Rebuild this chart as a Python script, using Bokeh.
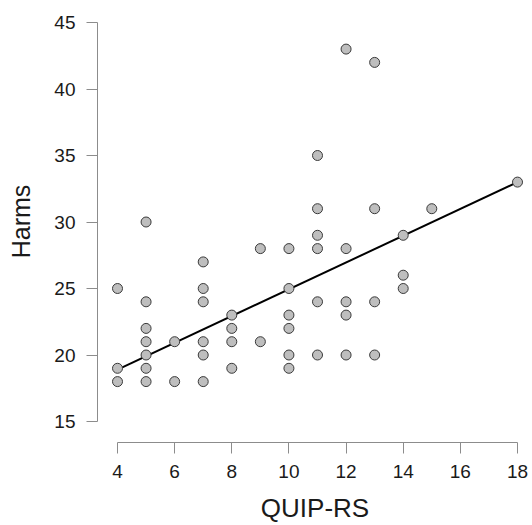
from bokeh.plotting import figure
from bokeh.models import Range1d, FixedTicker
from bokeh.embed import file_html
from bokeh.resources import INLINE

# Data (QUIP-RS vs Harms)
quip_rs = [4, 4, 4,
           5, 5, 5, 5, 5, 5, 5,
           6, 6,
           7, 7, 7, 7, 7, 7,
           8, 8, 8, 8,
           9, 9,
           10, 10, 10, 10, 10, 10,
           11, 11, 11, 11, 11, 11,
           12, 12, 12, 12, 12,
           13, 13, 13, 13,
           14, 14, 14,
           15,
           18]
harms = [25, 19, 18,
         30, 24, 22, 21, 20, 19, 18,
         21, 18,
         27, 25, 24, 21, 20, 18,
         23, 22, 21, 19,
         28, 21,
         28, 25, 23, 22, 20, 19,
         35, 31, 29, 28, 24, 20,
         43, 28, 24, 23, 20,
         42, 31, 24, 20,
         29, 26, 25,
         31,
         33]
# regression line as drawn in the reference (end points)
fit_x = [4, 18]
fit_y = [18.9, 33.0]
x_ticks = [4, 6, 8, 10, 12, 14, 16, 18]
y_ticks = [15, 20, 25, 30, 35, 40, 45]

W, H = 532, 525
FL, FT, FB = 97, 0, 442          # frame left / top / bottom (px)
xpu = 400 / 14.0                 # px per x unit
ypu = 399 / 30.0                 # px per y unit
x0 = 4 - 20 / xpu
x1 = x0 + (W - FL) / xpu
y0 = 15 - 21 / ypu
y1 = y0 + (FB - FT) / ypu

p = figure(width=W, height=H, output_backend="svg", toolbar_location=None,
           x_range=Range1d(x0, x1), y_range=Range1d(y0, y1),
           min_border_left=FL, min_border_right=0, min_border_top=FT,
           min_border_bottom=H - FB)
p.outline_line_color = None
p.xgrid.grid_line_color = None
p.ygrid.grid_line_color = None
p.background_fill_color = "white"
p.border_fill_color = "white"

p.line(fit_x, fit_y, line_color="black", line_width=2)
p.scatter(quip_rs, harms, size=10, fill_color="#BEBEBE",
          line_color="#3a3a3a", line_width=1)

for ax, ticks, bounds in ((p.xaxis[0], x_ticks, (4, 18)), (p.yaxis[0], y_ticks, (15, 45))):
    ax.ticker = FixedTicker(ticks=ticks)
    ax.bounds = bounds
    ax.axis_line_color = "#8c8c8c"
    ax.major_tick_line_color = "#8c8c8c"
    ax.minor_tick_line_color = None
    ax.major_tick_out = 11
    ax.major_tick_in = 0
    ax.major_label_text_font = "Liberation Sans"
    ax.major_label_text_font_size = "19px"
    ax.major_label_text_color = "#1a1a1a"
    ax.major_label_standoff = 11
    ax.axis_label_text_font = "Liberation Sans"
    ax.axis_label_text_font_style = "normal"
    ax.axis_label_text_color = "#1a1a1a"

p.xaxis.axis_label = "QUIP-RS"
p.yaxis.axis_label = "Harms"
p.xaxis.axis_label_text_font_size = "26px"
p.yaxis.axis_label_text_font_size = "25px"
p.xaxis.axis_label_standoff = 12
p.yaxis.axis_label_standoff = 16

open("out.html", "w").write(file_html(p, INLINE))
